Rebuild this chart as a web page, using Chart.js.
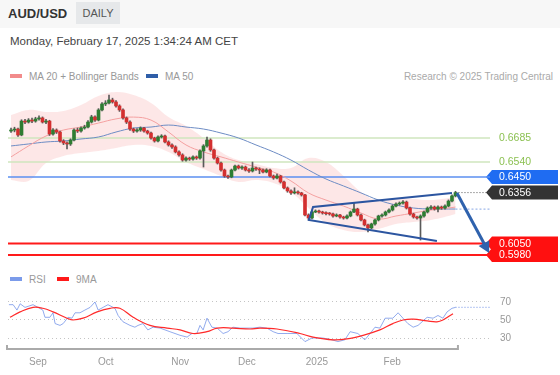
<!DOCTYPE html>
<html>
<head>
<meta charset="utf-8">
<script src="https://cdn.jsdelivr.net/npm/chart.js@4.4.1/dist/chart.umd.min.js"></script>
<style>
  html, body { margin: 0; padding: 0; background: #fff; }
  body { width: 560px; height: 375px; position: relative; overflow: hidden; font-family: "Liberation Sans", Arial, sans-serif; }
  .top { position: absolute; left: 0; top: 0; width: 560px; height: 28px; background: #f7f7f7; }
  .sym { position: absolute; left: 8px; top: 6px; font-weight: bold; font-size: 13px; color: #333; }
  .tf { position: absolute; left: 76px; top: 2px; width: 44px; height: 22px; background: #e6e8ea; color: #555; font-size: 11px; line-height: 22px; text-align: center; }
  .date { position: absolute; left: 10px; top: 35px; font-size: 11.5px; color: #444; }
  .leg { position: absolute; font-size: 10px; line-height: 12px; color: #999; white-space: nowrap; }
  .sw { display: inline-block; width: 12px; height: 4px; vertical-align: middle; margin-right: 7px; position: relative; top: -1px; }
  canvas { position: absolute; left: 0; }
</style>
</head>
<body>
<div class="top"></div>
<div class="sym">AUD/USD</div>
<div class="tf">DAILY</div>
<div class="date">Monday, February 17, 2025 1:34:24 AM CET</div>
<div class="leg" style="left:10px;top:71px"><span class="sw" style="background:#f28b8b"></span>MA 20 + Bollinger Bands</div>
<div class="leg" style="left:146px;top:71px"><span class="sw" style="background:#2f5ea8"></span>MA 50</div>
<div class="leg" style="right:7px;top:71px;color:#aaa">Research © 2025 Trading Central</div>
<div class="leg" style="left:10px;top:274px"><span class="sw" style="background:#7b9bea"></span>RSI</div>
<div class="leg" style="left:57px;top:274px"><span class="sw" style="background:#ff1a1a"></span>9MA</div>

<canvas id="price" width="560" height="186" style="top:84px"></canvas>
<canvas id="rsi" width="560" height="101" style="top:274px"></canvas>

<script>
// daily candles, [open, high, low, close]
const ohlc = [
  [0.6727,0.6745,0.6718,0.6733],[0.6733,0.6750,0.6722,0.6739],[0.6739,0.6745,0.6695,0.6703],[0.6703,0.6795,0.6698,0.6787],
  [0.6787,0.6798,0.6772,0.6781],[0.6781,0.6802,0.6775,0.6793],[0.6793,0.6805,0.6778,0.6787],[0.6787,0.6810,0.6780,0.6800],
  [0.6800,0.6818,0.6792,0.6806],[0.6806,0.6812,0.6775,0.6781],[0.6781,0.6798,0.6772,0.6787],[0.6787,0.6792,0.6700,0.6709],
  [0.6709,0.6742,0.6702,0.6733],[0.6733,0.6740,0.6712,0.6721],[0.6721,0.6727,0.6660,0.6667],[0.6667,0.6675,0.6645,0.6655],
  [0.6655,0.6662,0.6619,0.6649],[0.6649,0.6680,0.6640,0.6673],[0.6673,0.6740,0.6668,0.6733],[0.6733,0.6745,0.6718,0.6727],
  [0.6727,0.6752,0.6720,0.6745],[0.6745,0.6762,0.6738,0.6751],[0.6751,0.6790,0.6745,0.6781],[0.6781,0.6822,0.6775,0.6812],
  [0.6812,0.6818,0.6785,0.6793],[0.6793,0.6862,0.6788,0.6854],[0.6854,0.6898,0.6848,0.6890],[0.6890,0.6910,0.6880,0.6896],
  [0.6896,0.6944,0.6890,0.6914],[0.6914,0.6925,0.6895,0.6902],[0.6902,0.6910,0.6870,0.6878],[0.6878,0.6885,0.6845,0.6854],
  [0.6854,0.6860,0.6798,0.6806],[0.6806,0.6812,0.6772,0.6781],[0.6781,0.6788,0.6730,0.6739],[0.6739,0.6745,0.6718,0.6727],
  [0.6727,0.6742,0.6720,0.6733],[0.6733,0.6752,0.6725,0.6745],[0.6745,0.6750,0.6720,0.6727],[0.6727,0.6732,0.6708,0.6715],
  [0.6715,0.6720,0.6678,0.6685],[0.6685,0.6690,0.6660,0.6667],[0.6667,0.6698,0.6662,0.6691],[0.6691,0.6705,0.6685,0.6697],
  [0.6697,0.6702,0.6655,0.6661],[0.6661,0.6668,0.6636,0.6643],[0.6643,0.6650,0.6622,0.6631],[0.6631,0.6638,0.6595,0.6601],
  [0.6601,0.6608,0.6575,0.6583],[0.6583,0.6590,0.6545,0.6552],[0.6552,0.6572,0.6546,0.6564],[0.6564,0.6570,0.6550,0.6558],
  [0.6558,0.6578,0.6552,0.6571],[0.6571,0.6577,0.6556,0.6564],[0.6564,0.6614,0.6558,0.6607],[0.6607,0.6645,0.6510,0.6637],
  [0.6637,0.6690,0.6630,0.6673],[0.6673,0.6680,0.6605,0.6613],[0.6613,0.6618,0.6558,0.6564],[0.6564,0.6570,0.6528,0.6534],
  [0.6534,0.6540,0.6485,0.6492],[0.6492,0.6498,0.6448,0.6456],[0.6456,0.6462,0.6442,0.6450],[0.6450,0.6498,0.6445,0.6492],
  [0.6492,0.6522,0.6486,0.6516],[0.6516,0.6522,0.6498,0.6504],[0.6504,0.6518,0.6496,0.6510],[0.6510,0.6516,0.6486,0.6492],
  [0.6492,0.6500,0.6478,0.6486],[0.6486,0.6540,0.6480,0.6504],[0.6504,0.6510,0.6490,0.6498],[0.6498,0.6505,0.6470,0.6492],
  [0.6492,0.6498,0.6474,0.6480],[0.6480,0.6500,0.6475,0.6492],[0.6492,0.6497,0.6450,0.6456],[0.6456,0.6462,0.6436,0.6444],
  [0.6444,0.6468,0.6438,0.6456],[0.6456,0.6460,0.6413,0.6420],[0.6420,0.6425,0.6378,0.6384],[0.6384,0.6390,0.6358,0.6366],
  [0.6366,0.6372,0.6345,0.6354],[0.6354,0.6385,0.6348,0.6360],[0.6360,0.6366,0.6346,0.6354],[0.6354,0.6358,0.6335,0.6342],
  [0.6342,0.6346,0.6215,0.6221],[0.6221,0.6228,0.6192,0.6203],[0.6203,0.6248,0.6198,0.6239],[0.6239,0.6252,0.6235,0.6245],
  [0.6245,0.6250,0.6232,0.6239],[0.6239,0.6244,0.6226,0.6233],[0.6233,0.6240,0.6222,0.6229],[0.6229,0.6236,0.6220,0.6227],
  [0.6227,0.6232,0.6208,0.6215],[0.6215,0.6228,0.6210,0.6221],[0.6221,0.6225,0.6202,0.6209],[0.6209,0.6214,0.6196,0.6203],
  [0.6203,0.6222,0.6198,0.6215],[0.6215,0.6245,0.6210,0.6239],[0.6239,0.6293,0.6235,0.6257],[0.6257,0.6262,0.6215,0.6221],
  [0.6221,0.6226,0.6185,0.6191],[0.6191,0.6196,0.6155,0.6161],[0.6161,0.6166,0.6119,0.6143],[0.6143,0.6172,0.6138,0.6167],
  [0.6167,0.6196,0.6160,0.6191],[0.6191,0.6220,0.6185,0.6215],[0.6215,0.6228,0.6208,0.6221],[0.6221,0.6245,0.6215,0.6239],
  [0.6239,0.6258,0.6233,0.6251],[0.6251,0.6282,0.6245,0.6275],[0.6275,0.6294,0.6270,0.6287],[0.6287,0.6300,0.6280,0.6293],
  [0.6293,0.6308,0.6286,0.6299],[0.6299,0.6305,0.6257,0.6263],[0.6263,0.6268,0.6220,0.6227],[0.6227,0.6232,0.6202,0.6209],
  [0.6209,0.6215,0.6196,0.6203],[0.6203,0.6222,0.6070,0.6215],[0.6215,0.6245,0.6208,0.6239],[0.6239,0.6270,0.6233,0.6263],
  [0.6263,0.6278,0.6255,0.6269],[0.6269,0.6275,0.6250,0.6257],[0.6257,0.6276,0.6240,0.6269],[0.6269,0.6275,0.6255,0.6263],
  [0.6263,0.6282,0.6256,0.6275],[0.6275,0.6312,0.6270,0.6305],[0.6305,0.6342,0.6300,0.6336],[0.6336,0.6364,0.6330,0.6356]
];

// indicator readings, taken every 5th candle
const maIdx     = [0,5,10,15,20,25,30,35,40,45,50,55,60,65,70,75,80,85,90,95,100,105,110,115,120,125,127];
const bandUpper = [0.6824,0.6854,0.6842,0.6848,0.6884,0.6938,0.6962,0.6944,0.6896,0.6811,0.6757,0.6685,0.6601,0.6552,0.6528,0.6504,0.6504,0.6564,0.6540,0.6456,0.6360,0.6305,0.6323,0.6317,0.6311,0.6323,0.6336];
const bandLower = [0.6432,0.6426,0.6534,0.6577,0.6595,0.6607,0.6625,0.6643,0.6637,0.6601,0.6540,0.6498,0.6456,0.6420,0.6432,0.6414,0.6360,0.6263,0.6173,0.6131,0.6119,0.6137,0.6167,0.6179,0.6191,0.6215,0.6227];
const ma20      = [0.6571,0.6637,0.6697,0.6733,0.6751,0.6775,0.6800,0.6811,0.6793,0.6721,0.6643,0.6601,0.6571,0.6540,0.6510,0.6480,0.6426,0.6354,0.6311,0.6275,0.6233,0.6197,0.6215,0.6233,0.6251,0.6263,0.6269];
const ma50      = [0.6637,0.6649,0.6661,0.6667,0.6679,0.6691,0.6721,0.6745,0.6751,0.6763,0.6751,0.6739,0.6715,0.6685,0.6643,0.6601,0.6552,0.6492,0.6438,0.6396,0.6354,0.6311,0.6281,0.6263,0.6257,0.6257,0.6257];

// support / resistance levels
const levels = [0.6685, 0.6540, 0.6450, 0.6050, 0.5980];

// drawn pattern: channel and projected move, [candle index, price]
const channel = [[121.7,0.6064],[85.1,0.6191],[86.3,0.6269],[126,0.6354]];
const arrow = [[127.4,0.6354],[135.4,0.6040]];

// RSI 14 and its 9 period average, [candle index, value]
const rsi = [[-0.6,67],[0.6,67],[1.7,61],[2.6,68],[4,64],[6.3,67],[7.7,64],[9.1,61],[9.7,53],[11.1,53],[12,58],[12.6,46],[14,44],[14.9,46],
  [16.3,53],[17.4,52],[18.3,58],[19.7,58],[21.1,61],[22.6,64],[24,70],[24.9,61],[26.3,64],[27.7,67],[29.7,63],[30.6,55],[32,48],[34,44],
  [35.4,42],[36.3,44],[37.7,46],[39.1,39],[40.6,42],[42.6,41],[44,39],[45.4,37],[48.3,33],[50.3,31],[51.7,35],[53.1,35],[54,44],[54.9,39],
  [56,52],[57.4,42],[58.9,41],[60.6,35],[62,37],[63.4,42],[65.4,41],[67.4,41],[69.1,41],[71.1,42],[73.1,41],[74.9,37],[76.3,35],[78.9,35],
  [81.7,35],[84,26],[86,30],[89.1,30],[91.7,28],[93.4,26],[95.4,28],[96.9,37],[99.1,35],[101.1,28],[102.6,35],[104,42],[105.4,41],
  [106.9,52],[109.1,52],[110.6,58],[112,52],[113.4,46],[114.9,42],[116.3,44],[118.9,53],[120.6,52],[122,55],[123.4,52],[124.6,59],
  [126,63],[127,64]];
const rsiMa = [[-0.3,53],[2.6,59],[6.3,64],[9.1,63],[12,59],[16,52],[17.7,50],[20.6,52],[24.6,59],[28.3,63],[31.1,63],[34.9,53],
  [39.7,44],[44.6,41],[48.3,39],[52,35],[56,37],[58.9,41],[63.4,41],[68.3,40],[71.1,41],[76,40],[82.6,35],[86.3,31],[92,28],[96,29],
  [100.6,33],[105.4,39],[109.1,46],[112,50],[114.9,51],[118.9,49],[121.7,48],[123.4,50],[126.3,57]];
const rsiTicks = [30, 50, 70];

// month labels on the time axis
const monthAt = [7.7, 27.1, 48.3, 67.4, 87.4, 108.9];
const monthLabels = ['Sep', 'Oct', 'Nov', 'Dec', '2025', 'Feb'];

const xMin = -0.86, xMax = 136.86;
const up = '#2e7d32', down = '#d32f2f';
const last = ohlc.length - 1;
const lastClose = ohlc[last][3];

const pts = (xs, ys) => xs.map((x, i) => ({ x, y: ys[i] }));
const pairs = arr => arr.map(p => ({ x: p[0], y: p[1] }));
const flat = (v, from) => [{ x: from, y: v }, { x: xMax, y: v }];

const levelColor = ['#cfe6be', '#cfe6be', '#5b8ff0', '#ff1a1a', '#ff1a1a'];
const levelWidth = [1.5, 1.5, 1.5, 2, 2];

function tag(ctx, area, y, text, fill) {
  const x0 = area.right - 4, x1 = area.right + 2, x2 = 558, h = 7;
  ctx.beginPath();
  ctx.moveTo(x0, y); ctx.lineTo(x1, y - h); ctx.lineTo(x2, y - h);
  ctx.lineTo(x2, y + h); ctx.lineTo(x1, y + h); ctx.closePath();
  ctx.fillStyle = fill; ctx.fill();
  ctx.fillStyle = '#fff';
  ctx.fillText(text, area.right + 9, y + 0.5);
}

const levelTags = {
  id: 'levelTags',
  beforeDatasetsDraw(chart) {
    const { ctx, chartArea, scales } = chart;
    ctx.save();
    ctx.font = '10.5px "Liberation Sans", Arial, sans-serif';
    ctx.textBaseline = 'middle';
    levels.forEach((v, i) => {
      const y = scales.y.getPixelForValue(v);
      if (i < 2) {
        ctx.fillStyle = '#8cc152';
        ctx.fillText(v.toFixed(4), chartArea.right + 9, y + 0.5);
      } else {
        tag(ctx, chartArea, y, v.toFixed(4), i === 2 ? '#1f6cf2' : '#ff1010');
      }
    });
    tag(ctx, chartArea, scales.y.getPixelForValue(lastClose), lastClose.toFixed(4), '#333');
    ctx.restore();
  },
  afterDatasetsDraw(chart) {
    // arrow head at the end of the projected move
    const { ctx, scales } = chart;
    const ax = arrow.map(p => [scales.x.getPixelForValue(p[0]), scales.y.getPixelForValue(p[1])]);
    const dx = ax[1][0] - ax[0][0], dy = ax[1][1] - ax[0][1];
    const len = Math.hypot(dx, dy), ux = dx / len, uy = dy / len;
    const bx = ax[1][0] - ux * 2, by = ax[1][1] - uy * 2;
    ctx.save();
    ctx.fillStyle = '#2f62ad';
    ctx.beginPath();
    ctx.moveTo(bx + ux * 11, by + uy * 11);
    ctx.lineTo(bx - uy * 6, by + ux * 6);
    ctx.lineTo(bx + uy * 6, by - ux * 6);
    ctx.closePath();
    ctx.fill();
    ctx.restore();
  }
};

const line = (data, color, width, order, extra) => Object.assign({
  type: 'line', data, borderColor: color, borderWidth: width, pointRadius: 0, fill: false, order
}, extra || {});

new Chart(document.getElementById('price'), {
  type: 'bar',
  data: {
    datasets: [
      line(pairs(arrow), '#2f62ad', 3, 0, { borderCapStyle: 'butt' }),
      line(pairs(channel), '#2c55a0', 2, 1),
      {
        type: 'bar', order: 2, grouped: false, barThickness: 3, minBarLength: 1,
        data: ohlc.map((c, i) => ({ x: i, y: [c[0], c[3]] })),
        backgroundColor: ohlc.map(c => c[3] >= c[0] ? up : down)
      },
      {
        type: 'bar', order: 3, grouped: false, barThickness: 1,
        data: ohlc.map((c, i) => ({ x: i, y: [c[2], c[1]] })),
        backgroundColor: '#5a5a5a'
      },
      line(flat(lastClose, last), '#555', 1, 4, { borderDash: [1, 2] }),
      line(flat(ma50[ma50.length - 1], last), '#9fb8ea', 1.2, 4, { borderDash: [2, 2] }),
      line(pts(maIdx, ma20), '#f4a0a0', 1, 5, { tension: 0.4 }),
      line(pts(maIdx, ma50), '#6d8cc4', 1, 5, { tension: 0.4 }),
      ...levels.map((v, i) => line(flat(v, xMin), levelColor[i], levelWidth[i], 6)),
      line(pts(maIdx, bandUpper), 'rgba(0,0,0,0)', 0, 7, { tension: 0.4, fill: '+1', backgroundColor: 'rgba(245,110,110,0.17)' }),
      line(pts(maIdx, bandLower), 'rgba(0,0,0,0)', 0, 7, { tension: 0.4 })
    ]
  },
  options: {
    responsive: false,
    animation: false,
    events: [],
    layout: { padding: { left: 8, right: 70, top: 6, bottom: 8 } },
    plugins: { legend: { display: false }, tooltip: { enabled: false } },
    scales: {
      x: { type: 'linear', min: xMin, max: xMax, offset: false, display: false },
      y: { min: 0.59378, max: 0.69742, display: false }
    }
  },
  plugins: [levelTags]
});

const axisBracket = {
  id: 'axisBracket',
  afterDraw(chart) {
    const { ctx, chartArea, scales } = chart;
    const y = chartArea.bottom + 1;
    const x0 = chartArea.left - 1, x1 = scales.x.getPixelForValue(last + 0.7);
    ctx.save();
    ctx.strokeStyle = '#aaa';
    ctx.lineWidth = 2;
    ctx.beginPath();
    ctx.moveTo(x0, y - 4); ctx.lineTo(x0, y); ctx.lineTo(x1, y); ctx.lineTo(x1, y - 4);
    ctx.stroke();
    ctx.restore();
  }
};

new Chart(document.getElementById('rsi'), {
  type: 'line',
  data: {
    datasets: [
      line(pairs(rsiMa), '#ff2a2a', 1.2, 0, { tension: 0.4 }),
      line(pairs(rsi), 'rgba(100,135,230,0.7)', 1, 1),
      line(flat(rsi[rsi.length - 1][1], last), 'rgba(100,135,230,0.75)', 1.2, 2, { borderDash: [1, 2] })
    ]
  },
  options: {
    responsive: false,
    animation: false,
    events: [],
    layout: { padding: { left: 8, right: 0, top: 0, bottom: 0 } },
    plugins: { legend: { display: false }, tooltip: { enabled: false } },
    scales: {
      x: {
        type: 'linear', min: xMin, max: xMax,
        afterBuildTicks: s => { s.ticks = monthAt.map(v => ({ value: v })); },
        afterFit: s => { s.height = 27; },
        grid: { display: false, drawTicks: false },
        border: { display: false },
        ticks: { autoSkip: false, maxRotation: 0, padding: 8, color: '#999', font: { size: 10 }, callback: (v, i) => monthLabels[i] }
      },
      y: {
        position: 'right', min: 18.9, max: 83.3,
        afterBuildTicks: s => { s.ticks = rsiTicks.map(v => ({ value: v })); },
        afterFit: s => { s.width = 70; },
        grid: { color: '#c4c4c4', drawTicks: false },
        border: { display: false, dash: [1, 3] },
        ticks: { padding: 10, color: '#999', font: { size: 10 } }
      }
    }
  },
  plugins: [axisBracket]
});
</script>
</body>
</html>
